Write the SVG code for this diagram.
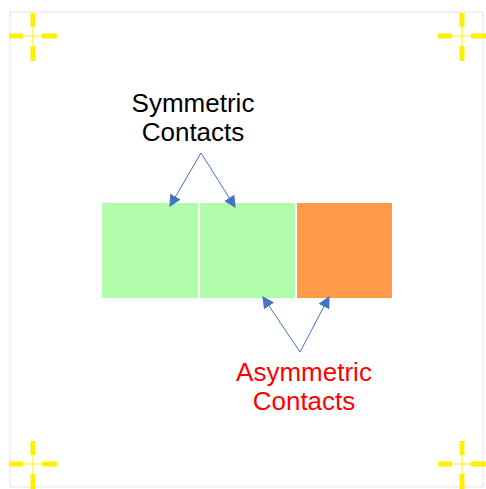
<svg xmlns="http://www.w3.org/2000/svg" width="486" height="489" viewBox="0 0 486 489">
<defs>
<style>
.bar{fill:#FFF000}
.hair{stroke:#FFF000;stroke-width:1;fill:none}
.conn{stroke:#4472C4;stroke-width:1;fill:none}
.lbl{font-family:"Liberation Sans",Arial,sans-serif;font-size:26px;text-anchor:middle}
</style>
<marker id="ah" viewBox="0 0 10 10" refX="9" refY="5" markerWidth="12" markerHeight="12" markerUnits="userSpaceOnUse" orient="auto">
<path d="M0,0 L10,5 L0,10 Z" fill="#4472C4"/>
</marker>
<g id="cross">
<rect class="bar" x="-2.5" y="-23" width="5" height="14"/>
<rect class="bar" x="-2.5" y="10" width="5" height="15"/>
<rect class="bar" x="-24" y="-2.5" width="14" height="5"/>
<rect class="bar" x="9" y="-2.5" width="15" height="5"/>
<path class="hair" d="M0,-9 V10 M-10,0 H9"/>
</g>
</defs>
<rect width="486" height="489" fill="#fff"/>
<rect x="10" y="12" width="473" height="475" fill="none" stroke="#cfcfcf" stroke-width="1" stroke-dasharray="1,1"/>
<use href="#cross" x="33" y="36"/>
<use href="#cross" x="462" y="36"/>
<use href="#cross" x="33" y="464"/>
<use href="#cross" x="462" y="464"/>
<g id="node-left"><rect x="102" y="203" width="96" height="95" fill="#B2FDAC"/></g>
<g id="node-middle"><rect x="200" y="203" width="95" height="95" fill="#B2FDAC"/></g>
<g id="node-right"><rect x="297" y="203" width="95" height="95" fill="#FF9A48"/></g>
<g id="label-symmetric">
<text class="lbl" x="193" y="112" fill="#000">Symmetric</text>
<text class="lbl" x="193" y="141" fill="#000">Contacts</text>
</g>
<g id="label-asymmetric">
<text class="lbl" x="304" y="381" fill="#FF0000">Asymmetric</text>
<text class="lbl" x="304" y="410" fill="#FF0000">Contacts</text>
</g>
<g id="connectors">
<path class="conn" d="M201,153 L170,206" marker-end="url(#ah)"/>
<path class="conn" d="M201,153 L235,207" marker-end="url(#ah)"/>
<path class="conn" d="M300,352 L263,297" marker-end="url(#ah)"/>
<path class="conn" d="M300,352 L329,297" marker-end="url(#ah)"/>
</g>
</svg>
